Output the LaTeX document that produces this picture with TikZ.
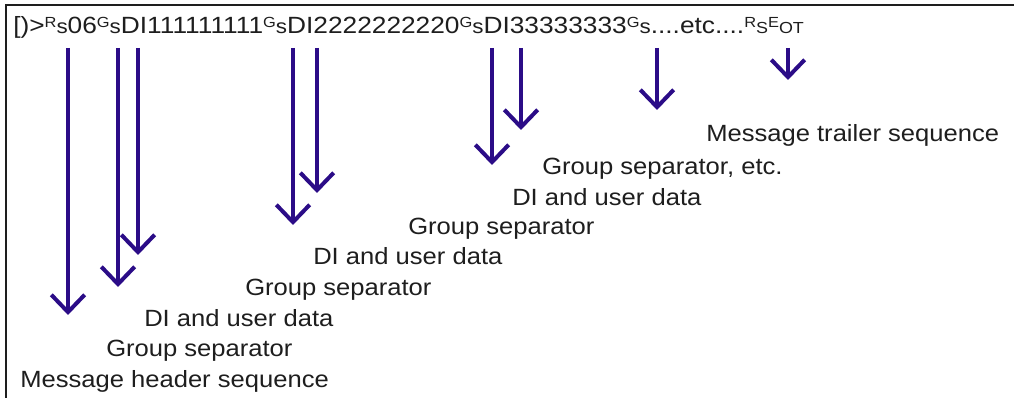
\documentclass[tikz,border=0pt]{standalone}
\usepackage{fontspec}
\setmainfont{Liberation Sans}
\usetikzlibrary{arrows.meta}
\definecolor{arrowblue}{RGB}{43,12,135}
\definecolor{txt}{RGB}{30,30,30}
\newcommand\hstr[1]{\scalebox{1.09}[1]{#1}}
\newcommand\hstrtop[1]{\scalebox{1.12}[1]{#1}}
\newcommand\supl[1]{\raisebox{4.8pt}{\fontsize{11}{11}\selectfont #1}}
\newcommand\sml[1]{{\fontsize{15}{15}\selectfont #1}}
\newcommand\tny[1]{{\fontsize{12}{12}\selectfont #1}}
\begin{document}
\begin{tikzpicture}[x=0.75pt,y=-0.75pt,
  lbl/.style={anchor=base west, inner sep=0pt, text=txt, font=\fontsize{17.6}{20}\selectfont},
  ptr/.style={draw=arrowblue, line width=3pt, -{Straight Barb[length=13pt,width=25pt,line width=3pt]}}]
\useasboundingbox (0,0) rectangle (1014,398);
\fill[white] (0,0) rectangle (1014,398);
\draw[line width=1.6pt, txt] (6,398) -- (6,5) -- (1014,5);
% encoded sequence
\node[lbl] (seq) at (13,34) {\hstrtop{[)>\supl{R}\sml{s}06\supl{G}\sml{s}DI111111111\supl{G}\sml{s}DI2222222220\supl{G}\sml{s}DI33333333\supl{G}\sml{s}....etc....\supl{R}\tny{S}\supl{E}\tny{OT}}};
% labels
\node[lbl] (mh)  at (20,388)  {\hstr{Message header sequence}};
\node[lbl] (gs1) at (106,357) {\hstr{Group separator}};
\node[lbl] (di1) at (144,327) {\hstr{DI and user data}};
\node[lbl] (gs2) at (245,296) {\hstr{Group separator}};
\node[lbl] (di2) at (313,265) {\hstr{DI and user data}};
\node[lbl] (gs3) at (408,235) {\hstr{Group separator}};
\node[lbl] (di3) at (512,206) {\hstr{DI and user data}};
\node[lbl] (gse) at (542,175) {\hstr{Group separator, etc.}};
\node[lbl] (mt)  at (706,142) {\hstr{Message trailer sequence}};
% arrows
\coordinate (s1) at (68,48);  \coordinate (e1) at (68,315);
\coordinate (s2) at (118,48); \coordinate (e2) at (118,287);
\coordinate (s3) at (138,48); \coordinate (e3) at (138,255);
\coordinate (s4) at (293,48); \coordinate (e4) at (293,225);
\coordinate (s5) at (317,48); \coordinate (e5) at (317,193);
\coordinate (s6) at (492,48); \coordinate (e6) at (492,165);
\coordinate (s7) at (521,48); \coordinate (e7) at (521,130);
\coordinate (s8) at (657,48); \coordinate (e8) at (657,110);
\coordinate (s9) at (788,48); \coordinate (e9) at (788,80);
\foreach \i in {1,...,9} \draw[ptr] (s\i) -- (e\i);
\end{tikzpicture}
\end{document}
